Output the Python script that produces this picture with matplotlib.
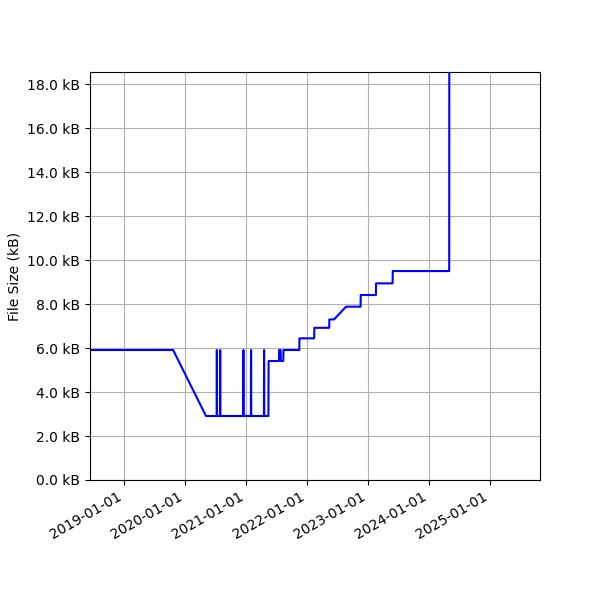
import numpy as np
import pandas as pd
import matplotlib
matplotlib.use('Agg')
import matplotlib.pyplot as plt
import matplotlib.dates as mdates
from matplotlib.ticker import FuncFormatter

# file size history (kB)
dates = [
    '2018-01-01', '2019-10-21', '2020-05-05',
    '2020-07-08', '2020-07-09', '2020-07-10',
    '2020-07-28', '2020-07-29', '2020-07-30',
    '2020-12-14', '2020-12-15', '2020-12-16',
    '2021-01-29', '2021-01-30', '2021-01-31',
    '2021-04-17', '2021-04-18', '2021-04-19',
    '2021-05-14', '2021-05-15',
    '2021-07-16', '2021-07-17', '2021-07-26', '2021-07-27',
    '2021-08-11', '2021-08-12',
    '2021-11-15', '2021-11-16',
    '2022-02-12', '2022-02-13',
    '2022-05-13', '2022-05-14',
    '2022-06-11', '2022-08-22',
    '2022-11-17', '2022-11-18',
    '2023-02-17', '2023-02-18',
    '2023-05-28', '2023-05-29',
    '2024-05-01', '2024-05-02',
]
sizes = [
    5.91, 5.91, 2.91,
    2.91, 5.91, 2.91,
    2.91, 5.91, 2.91,
    2.91, 5.91, 2.91,
    2.91, 5.91, 2.91,
    2.91, 5.91, 2.91,
    2.91, 5.41,
    5.41, 5.91, 5.91, 5.41,
    5.41, 5.91,
    5.91, 6.44,
    6.44, 6.92,
    6.92, 7.30,
    7.30, 7.88,
    7.88, 8.41,
    8.41, 8.94,
    8.94, 9.50,
    9.50, 25.0,
]

x = pd.to_datetime(dates)

fig, ax = plt.subplots(figsize=(6, 6), dpi=100)
ax.plot(x, sizes, color='blue')
ax.set_ylabel('File Size (kB)')
ax.yaxis.set_major_formatter(FuncFormatter(lambda v, p: f'{v:.1f} kB'))
ax.set_yticks(np.arange(0, 19, 2))
ax.set_ylim(0, 18.55)
ax.set_xlim(pd.Timestamp('2018-06-10'), pd.Timestamp('2025-10-27'))
ax.xaxis.set_major_locator(mdates.YearLocator())
ax.xaxis.set_major_formatter(mdates.DateFormatter('%Y-%m-%d'))
ax.grid(True)
fig.autofmt_xdate()
fig.subplots_adjust(left=0.15, right=0.9, top=0.88, bottom=0.2)
fig.savefig('out.png')
